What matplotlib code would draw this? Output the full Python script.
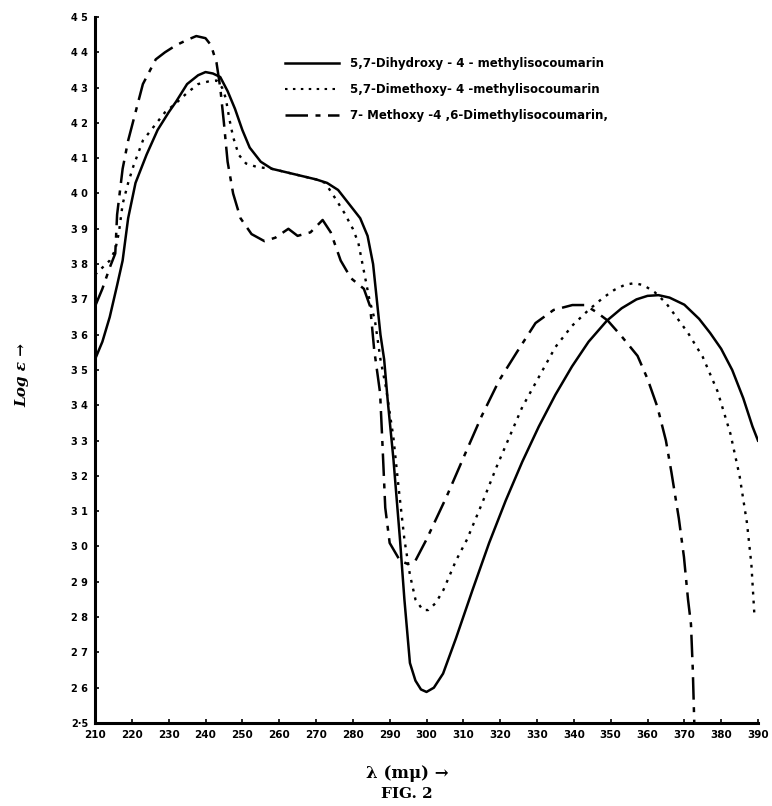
import matplotlib
matplotlib.use("Agg")
import matplotlib.pyplot as plt
from matplotlib.lines import Line2D

# ---- data (wavelength in mµ, log epsilon) ----
dihydroxy_wl = [210, 212, 214, 216, 217.5, 219, 221, 224, 227, 230, 232, 235, 238, 240, 242, 244,
                246, 248, 250, 252, 255, 258, 262, 266, 270, 273, 276, 279, 282, 284, 285.5, 286.5,
                287.5, 288.5, 289.5, 291, 292.8, 294, 295.5, 297, 298.5, 300, 302, 304.5, 308, 312.5,
                317, 321.5, 326, 330.5, 335, 339.5, 344, 349, 353, 357, 360, 363, 366, 370, 374, 377,
                380, 383, 386, 388.5, 390]
dihydroxy_log = [3.53, 3.58, 3.65, 3.74, 3.81, 3.93, 4.03, 4.11, 4.18, 4.23, 4.26, 4.31, 4.335, 4.344,
                 4.34, 4.33, 4.29, 4.24, 4.18, 4.13, 4.09, 4.07, 4.06, 4.05, 4.04, 4.03, 4.01, 3.97,
                 3.93, 3.88, 3.80, 3.70, 3.60, 3.53, 3.41, 3.25, 3.02, 2.85, 2.67, 2.62, 2.595, 2.588,
                 2.60, 2.64, 2.74, 2.877, 3.01, 3.13, 3.24, 3.34, 3.43, 3.51, 3.58, 3.64, 3.675, 3.70,
                 3.71, 3.712, 3.705, 3.685, 3.645, 3.605, 3.56, 3.50, 3.42, 3.34, 3.30]

dimethoxy_wl = [210, 212, 214, 215.5, 216.5, 217.5, 219, 220.5, 223, 226, 229, 232, 235, 238, 241, 243,
                244.5, 245.5, 246.5, 247.5, 249, 251, 254, 258, 262, 266, 270, 272.5, 275, 277.7, 280,
                281.5, 283, 284.5, 286, 287.5, 289, 291, 292.5, 294, 295.5, 297, 299, 300.5, 302.5,
                304.6, 308, 311, 315, 319, 322.5, 326, 330.5, 335, 339.5, 344, 348, 351, 354, 356.5,
                359, 362, 365, 367.5, 371, 375, 379, 382.5, 385, 387, 388.2, 389]
dimethoxy_log = [3.77, 3.79, 3.81, 3.84, 3.89, 3.97, 4.03, 4.08, 4.15, 4.19, 4.23, 4.256, 4.285, 4.31,
                 4.318, 4.32, 4.30, 4.27, 4.21, 4.16, 4.11, 4.085, 4.075, 4.07, 4.06, 4.05, 4.04, 4.03,
                 3.99, 3.945, 3.90, 3.86, 3.78, 3.70, 3.64, 3.53, 3.45, 3.31, 3.16, 3.02, 2.92, 2.85,
                 2.82, 2.82, 2.84, 2.877, 2.96, 3.02, 3.12, 3.225, 3.31, 3.395, 3.48, 3.565, 3.625,
                 3.67, 3.705, 3.727, 3.742, 3.746, 3.74, 3.72, 3.69, 3.655, 3.605, 3.537, 3.44, 3.32,
                 3.20, 3.067, 2.95, 2.81]

methoxy_wl = [210, 212, 214, 215.5, 216, 217.5, 219, 220.5, 223, 226.5, 229, 232, 235, 237.5, 240,
              241.5, 243, 244, 245, 246, 247.5, 249.5, 252.5, 256, 259, 262.5, 265, 268.5, 271.8, 274,
              276.7, 279.5, 283, 284.7, 285.8, 287.4, 288, 288.8, 290, 292.8, 295, 297, 300, 305.4,
              310.8, 315, 319.7, 324.5, 329.6, 334.5, 339.6, 343, 346, 349.2, 353, 357.3, 360, 362.7,
              365, 366.5, 368.5, 369.9, 371, 371.8, 372.3, 372.7]
methoxy_log = [3.68, 3.73, 3.79, 3.83, 3.94, 4.07, 4.15, 4.21, 4.31, 4.38, 4.40, 4.42, 4.435, 4.446,
               4.44, 4.42, 4.37, 4.30, 4.20, 4.09, 4.00, 3.93, 3.885, 3.865, 3.875, 3.90, 3.88, 3.89,
               3.925, 3.89, 3.81, 3.76, 3.73, 3.68, 3.557, 3.435, 3.30, 3.11, 3.01, 2.96, 2.95, 2.96,
               3.02, 3.14, 3.27, 3.37, 3.47, 3.55, 3.633, 3.67, 3.684, 3.684, 3.665, 3.64, 3.595, 3.54,
               3.475, 3.395, 3.30, 3.21, 3.08, 2.97, 2.85, 2.78, 2.65, 2.50]

labels = ["5,7-Dihydroxy - 4 - methylisocoumarin",
          "5,7-Dimethoxy- 4 -methylisocoumarin",
          "7- Methoxy -4 ,6-Dimethylisocoumarin,"]

x_ticks = [210, 220, 230, 240, 250, 260, 270, 280, 290, 300, 310, 320, 330, 340, 350, 360, 370, 380, 390]
x_ticklabels = [str(v) for v in x_ticks]
y_ticks = [2.5, 2.6, 2.7, 2.8, 2.9, 3.0, 3.1, 3.2, 3.3, 3.4, 3.5, 3.6, 3.7, 3.8, 3.9, 4.0, 4.1, 4.2, 4.3, 4.4, 4.5]
y_ticklabels = ["2·5", "2 6", "2 7", "2 8", "2 9", "3 0", "3 1", "3 2", "3 3", "3 4", "3 5",
                "3 6", "3 7", "3 8", "3 9", "4 0", "4 1", "4 2", "4 3", "4 4", "4 5"]

# ---- figure ----
W, H = 772, 806
fig = plt.figure(figsize=(W / 100, H / 100), dpi=100)
ax = fig.add_axes([95 / W, 1 - 723 / H, (758 - 95) / W, (723 - 17) / H])

lw = 1.8
ax.plot(dihydroxy_wl, dihydroxy_log, color="black", lw=lw, linestyle="-")
ax.plot(dimethoxy_wl, dimethoxy_log, color="black", lw=1.7, linestyle=(0, (1.2, 2.6)))
ax.plot(methoxy_wl, methoxy_log, color="black", lw=lw, linestyle=(0, (9, 3, 2, 3)))

ax.set_xlim(210, 390)
ax.set_ylim(2.5, 4.5)
for s in ("top", "right"):
    ax.spines[s].set_visible(False)
for s in ("left", "bottom"):
    ax.spines[s].set_linewidth(2.2)

ax.set_xticks(x_ticks)
ax.set_xticklabels(x_ticklabels, fontsize=7.5, fontweight="bold")
ax.set_yticks(y_ticks)
ax.set_yticklabels(y_ticklabels, fontsize=7, fontweight="bold")
ax.tick_params(axis="both", direction="in", length=3, width=1.2, pad=5)

handles = [Line2D([0], [0], color="black", lw=1.8, linestyle="-"),
           Line2D([0], [0], color="black", lw=1.5, linestyle=(0, (1.2, 2.6))),
           Line2D([0], [0], color="black", lw=1.8, linestyle=(0, (9, 3, 2, 3)))]
leg = fig.legend(handles, labels, loc="upper left",
                 bbox_to_anchor=(285 / W, 1 - 57 / H), frameon=False,
                 prop={"size": 8.5, "weight": "bold"},
                 handlelength=4.6, handletextpad=0.9, labelspacing=1.1,
                 borderpad=0, borderaxespad=0)

fig.text(22 / W, 1 - 375 / H, "Log \u03b5 \u2192", rotation=90, ha="center", va="center",
         fontsize=11, fontstyle="italic", fontweight="bold", family="DejaVu Serif")
fig.text(407 / W, 1 - 773 / H, "\u03bb (m\u03bc) \u2192", ha="center", va="center",
         fontsize=12, fontweight="bold", family="DejaVu Serif")
fig.text(407 / W, 1 - 794 / H, "FIG. 2", ha="center", va="center",
         fontsize=11, fontweight="bold", family="DejaVu Serif")

fig.savefig("out.png", dpi=100)
